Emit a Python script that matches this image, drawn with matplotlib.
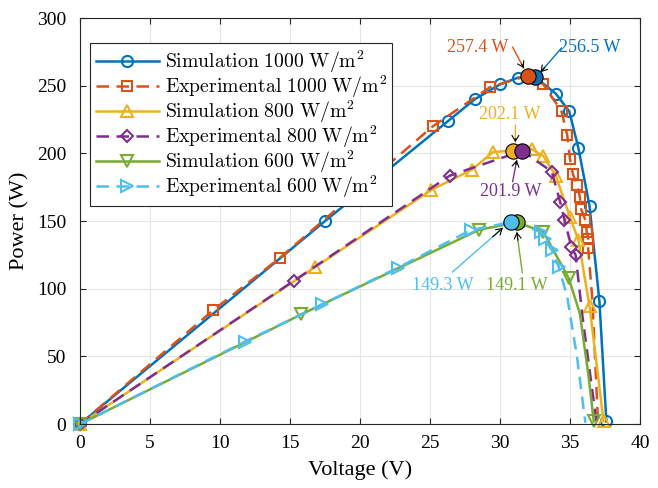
import numpy as np
import matplotlib
matplotlib.use("Agg")
import matplotlib.pyplot as plt

plt.rcParams['font.family'] = ['Liberation Serif', 'DejaVu Serif']
plt.rcParams['mathtext.fontset'] = 'cm'

# P-V data (voltage V, power W)
v_sim1000 = [0, 17.5, 26.3, 28.2, 30.0, 31.3, 32.5, 34.0, 34.95, 35.6, 36.4, 37.1, 37.6]
p_sim1000 = [0, 150, 224, 240, 251, 256, 256.5, 244, 231, 204, 161, 91, 2]
mk_sim1000 = [0, 1, 2, 3, 4, 5, 7, 8, 9, 10, 11, 12]

v_exp1000 = [0, 9.5, 14.3, 25.2, 29.3, 32.0, 33.1, 34.4, 34.8, 35.0, 35.2, 35.5, 35.7, 35.8, 36.1, 36.2, 36.3, 36.3, 36.6, 37.0]
p_exp1000 = [0, 84, 123, 220, 249, 257.4, 251, 231, 213.6, 196, 185, 176.6, 168, 158.7, 150.8, 142, 137, 129.8, 92, 2]
mk_exp1000 = [0, 1, 2, 3, 4, 6, 7, 8, 9, 10, 11, 12, 13, 14, 15, 16, 17]

v_sim800 = [0, 16.8, 25.1, 28.0, 29.5, 30.9, 32.3, 33.1, 34.0, 35.0, 35.6, 36.4, 37.4]
p_sim800 = [0, 116, 173, 188, 201, 202.1, 203, 198, 183, 153, 136, 87, 2]
mk_sim800 = [0, 1, 2, 3, 4, 6, 7, 8, 9, 10, 11, 12]

v_exp800 = [0, 15.3, 26.4, 31.6, 33.7, 34.3, 34.6, 35.1, 35.4, 35.9, 36.9]
p_exp800 = [0, 106, 183.5, 201.9, 186.5, 164, 151, 131, 125, 79, 1]
mk_exp800 = [0, 1, 2, 4, 5, 6, 7, 8]

v_sim600 = [0, 15.8, 28.5, 31.2, 33.1, 34.9, 35.7, 36.3, 36.7]
p_sim600 = [0, 81, 143.5, 149.1, 142, 108, 82, 37.5, 2]
mk_sim600 = [0, 1, 2, 4, 5, 8]

v_exp600 = [0, 11.8, 17.3, 22.7, 27.9, 30.8, 32.9, 33.2, 33.7, 34.2, 34.8, 35.5, 36.1]
p_exp600 = [0, 61, 88.5, 115.5, 143.2, 149.3, 142, 137, 128.6, 116, 94, 50, 1]
mk_exp600 = [0, 1, 2, 3, 4, 6, 7, 8, 9]

# maximum power points: (V, P, label)
mpp_v = [32.5, 32.0, 30.9, 31.6, 31.2, 30.8]
mpp_p = [256.5, 257.4, 202.1, 201.9, 149.1, 149.3]
mpp_txt = ['256.5 W', '257.4 W', '202.1 W', '201.9 W', '149.1 W', '149.3 W']

c_blue = '#0072BD'
c_red = '#D95319'
c_yel = '#EDB120'
c_pur = '#7E2F8E'
c_grn = '#77AC30'
c_cyn = '#4DBEEE'

fig = plt.figure(figsize=(6.58, 4.88), dpi=100)
ax = fig.add_axes([0.1216, 0.131, 0.851, 0.832])

lw = 1.8
ms = 8
ax.plot(v_sim1000, p_sim1000, '-', color=c_blue, lw=lw, marker='o', ms=ms, mfc='none', mew=1.5,
        markevery=mk_sim1000, clip_on=False, label=r'$\mathrm{Simulation\ 1000\ W/m^2}$')
ax.plot(v_exp1000, p_exp1000, '--', color=c_red, lw=lw, marker='s', ms=7, mfc='none', mew=1.5,
        markevery=mk_exp1000, clip_on=False, dashes=(5, 3), label=r'$\mathrm{Experimental\ 1000\ W/m^2}$')
ax.plot(v_sim800, p_sim800, '-', color=c_yel, lw=lw, marker='^', ms=ms, mfc='none', mew=1.5,
        markevery=mk_sim800, clip_on=False, label=r'$\mathrm{Simulation\ 800\ W/m^2}$')
ax.plot(v_exp800, p_exp800, '--', color=c_pur, lw=lw, marker='D', ms=6.5, mfc='none', mew=1.5,
        markevery=mk_exp800, clip_on=False, dashes=(5, 3), label=r'$\mathrm{Experimental\ 800\ W/m^2}$')
ax.plot(v_sim600, p_sim600, '-', color=c_grn, lw=lw, marker='v', ms=ms, mfc='none', mew=1.5,
        markevery=mk_sim600, clip_on=False, label=r'$\mathrm{Simulation\ 600\ W/m^2}$')
ax.plot(v_exp600, p_exp600, '--', color=c_cyn, lw=lw, marker='>', ms=ms, mfc='none', mew=1.5,
        markevery=mk_exp600, clip_on=False, dashes=(5, 3), label=r'$\mathrm{Experimental\ 600\ W/m^2}$')

mpp_col = [c_blue, c_red, c_yel, c_pur, c_grn, c_cyn]
for v, p, c in zip(mpp_v, mpp_p, mpp_col):
    ax.plot(v, p, 'o', ms=11, mfc=c, mec='k', mew=0.8, zorder=5)

# annotation text position and arrow tail/head
txt_xy = [(36.4, 278.6), (28.4, 278.6), (30.7, 228.4), (30.8, 171.5), (31.2, 102.7), (25.9, 102.7)]
tail_xy = [(34.4, 278), (30.9, 278.6), (31.1, 221), (30.9, 179), (31.6, 111.6), (26.6, 112.3)]
head_xy = [(32.9, 260), (31.7, 263), (31.1, 208.4), (31.2, 195), (31.2, 141.9), (30.2, 144.9)]
for t, c, txy, a, b in zip(mpp_txt, mpp_col, txt_xy, tail_xy, head_xy):
    ax.text(txy[0], txy[1], t, color=c, fontsize=13, ha='center', va='center')
    ax.annotate('', xy=b, xytext=a,
                arrowprops=dict(arrowstyle='-', color=c, lw=1.0, shrinkA=0, shrinkB=0))
    ax.annotate('', xy=b, xytext=(b[0] + (a[0] - b[0]) * 0.2, b[1] + (a[1] - b[1]) * 0.2),
                arrowprops=dict(arrowstyle='->,head_length=0.4,head_width=0.25', color='k', lw=0.8,
                                shrinkA=0, shrinkB=0))

ax.set_xlim(0, 40)
ax.set_ylim(0, 300)
ax.set_xticks(np.arange(0, 41, 5))
ax.set_yticks(np.arange(0, 301, 50))
ax.tick_params(direction='in', top=True, right=True, labelsize=14, length=4, color='#262626')
ax.tick_params(axis='y', pad=10)
ax.tick_params(axis='x', pad=8)
ax.grid(True, color='#e6e6e6', lw=0.8)
ax.set_axisbelow(True)
for s in ax.spines.values():
    s.set_color('#262626')
    s.set_linewidth(0.8)
ax.set_xlabel('Voltage (V)', fontsize=16, labelpad=6)
ax.set_ylabel('Power (W)', fontsize=16, labelpad=5)

leg = ax.legend(loc='upper left', bbox_to_anchor=(0.018, 0.938), borderaxespad=0, fontsize=14.2,
                handlelength=3.2, labelspacing=-0.08, borderpad=0.28, handletextpad=0.3, fancybox=False,
                edgecolor='#262626', framealpha=1)
leg.get_frame().set_linewidth(0.8)

fig.savefig('out.png', dpi=100)
